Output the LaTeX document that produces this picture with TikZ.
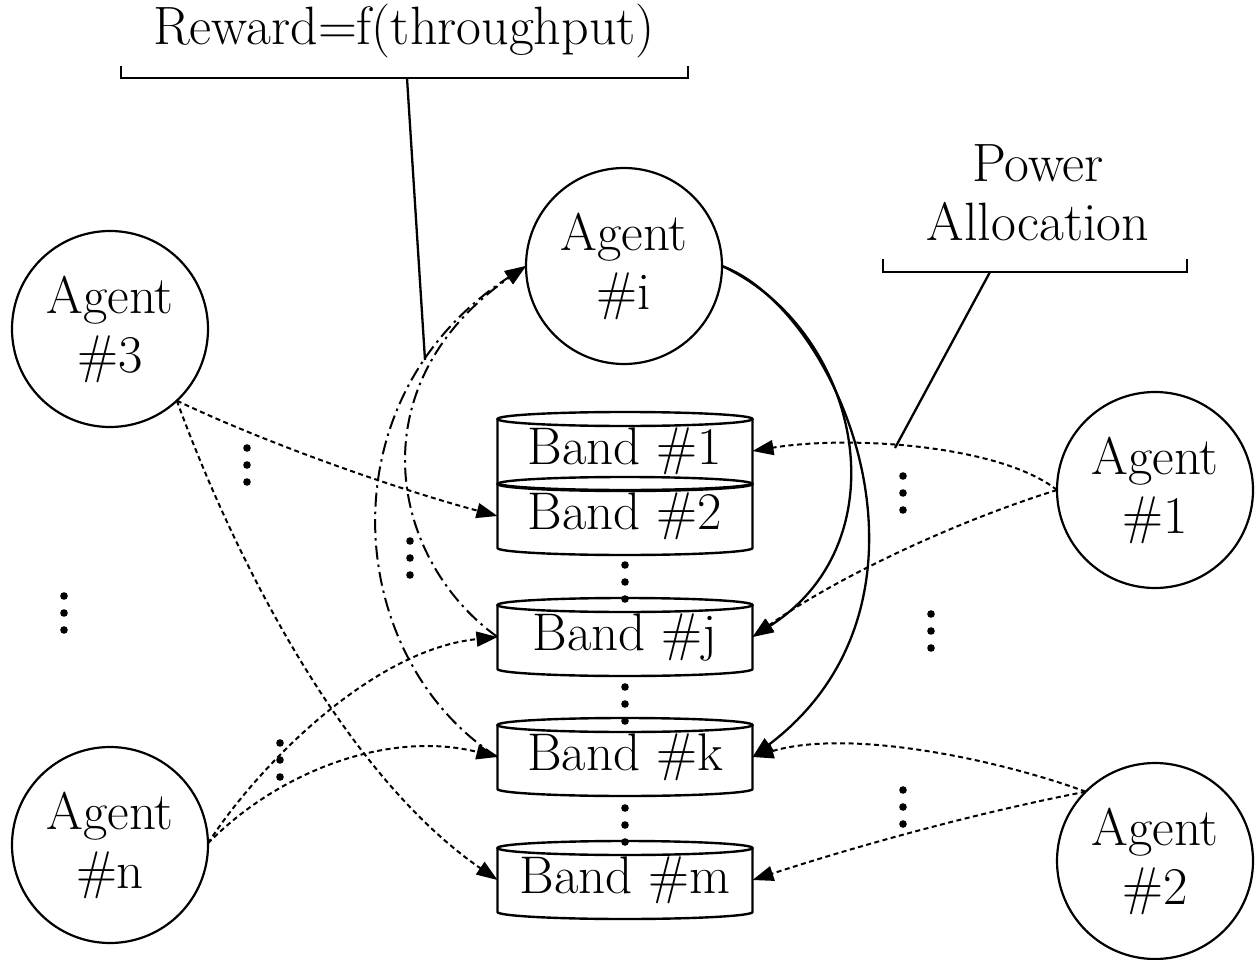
\documentclass[tikz,border=0pt]{standalone}
\usetikzlibrary{arrows.meta}
\newcommand\cylband[1]{%
  \draw[cylline] ([yshift=-7pt]#1.north west) -- ([yshift=7pt]#1.south west)
    arc[start angle=180,end angle=360,x radius=127.5pt,y radius=7pt]
    -- ([yshift=-7pt]#1.north east);
  \draw[cylline] ([yshift=-7pt]#1.north) ellipse[x radius=127.5pt,y radius=7pt];}
\newcommand\threedots[2]{%
  \foreach \dd in {0,17,34} {\fill (#1,#2+\dd) circle[radius=3.8pt];}}
\begin{document}
\begin{tikzpicture}[x=1pt,y=-1pt,
  agent/.style={circle,draw,line width=2.2pt,minimum size=196pt,inner sep=0pt,outer sep=0pt,align=center,font=\fontsize{53}{59}\selectfont},
  band/.style={rectangle,minimum width=255pt,minimum height=78pt,inner sep=0pt,outer sep=0pt,font=\fontsize{53}{59}\selectfont},
  lbl/.style={align=center,font=\fontsize{54}{59}\selectfont,inner sep=0pt},
  cylline/.style={line width=2.4pt},
  tip/.style={-{Triangle[length=21pt,width=15pt]}},
  dotlink/.style={tip,line width=2pt,dash pattern=on 5pt off 3.5pt},
  dashdotlink/.style={tip,line width=2pt,dash pattern=on 14pt off 5pt on 2.5pt off 5pt},
  solidlink/.style={tip,line width=2.3pt},
  plain/.style={line width=2.3pt}]
\useasboundingbox (0,0) rectangle (1258,960);

% agents
\node[agent] (ai) at (624,266) {Agent\\\#i};
\node[agent] (a3) at (110,329) {Agent\\\#3};
\node[agent] (an) at (110,845) {Agent\\\#n};
\node[agent] (a1) at (1155,490) {Agent\\\#1};
\node[agent] (a2) at (1155,861) {Agent\\\#2};

% bands
\node[band] (b1) at (625,451) {Band \#1};
\node[band] (b2) at (625,516) {Band \#2};
\node[band] (bj) at (625,637) {Band \#j};
\node[band] (bk) at (625,757) {Band \#k};
\node[band] (bm) at (625,880) {Band \#m};
\cylband{b1}
\cylband{b2}
\cylband{bj}
\cylband{bk}
\cylband{bm}

% labels
\node[lbl] (rw) at (404,31) {Reward=f(throughput)};
\node[lbl] (pa) at (1038,193) {Power\\Allocation};
\coordinate (rwl) at (121,66);
\coordinate (rwr) at (688,66);
\coordinate (rwm) at (407,78);
\coordinate (rwe) at (425,360);
\draw[plain] (rwl) -- (rwl |- rwm) -- (rwr |- rwm) -- (rwr);
\draw[plain] (rwm) -- (rwe);
\coordinate (pal) at (883,259);
\coordinate (par) at (1187,259);
\coordinate (pam) at (990,272);
\coordinate (pae) at (895,448);
\draw[plain] (pal) -- (pal |- pam) -- (par |- pam) -- (par);
\draw[plain] (pam) -- (pae);

% dotted links from agents to bands
\draw[dotlink] (a3.-47) .. controls (270,445) and (400,490) .. (b2.west);
\draw[dotlink] (a3.-47) .. controls (235,560) and (345,775) .. (bm.west);
\draw[dotlink] (an.1) .. controls (255,770) and (370,650) .. (bj.west);
\draw[dotlink] (an.1) .. controls (280,770) and (390,730) .. (bk.west);
\draw[dotlink] (a1.west) .. controls (1000,445) and (850,435) .. (b1.east);
\draw[dotlink] (a1.west) .. controls (960,520) and (840,575) .. (bj.east);
\draw[dotlink] (a2.135) .. controls (1000,760) and (850,728) .. (bk.east);
\draw[dotlink] (a2.135) .. controls (980,812) and (860,845) .. (bm.east);

% dash-dot feedback to agent i
\draw[dashdotlink] (bk.west) .. controls (345,660) and (320,400) .. (ai.west);
\draw[dashdotlink] (bj.west) .. controls (390,560) and (355,385) .. (ai.west);

% solid links from agent i
\draw[solidlink] (ai.east) .. controls (860,330) and (905,540) .. (bj.east);
\draw[solidlink] (ai.east) .. controls (840,310) and (960,600) .. (bk.east);

% ellipsis dots
\threedots{247}{448}
\threedots{410}{541}
\threedots{280}{743}
\threedots{64}{596}
\threedots{903}{476}
\threedots{931}{614}
\threedots{903}{790}
\threedots{625}{565}
\threedots{625}{687}
\threedots{625}{808}
\end{tikzpicture}
\end{document}
